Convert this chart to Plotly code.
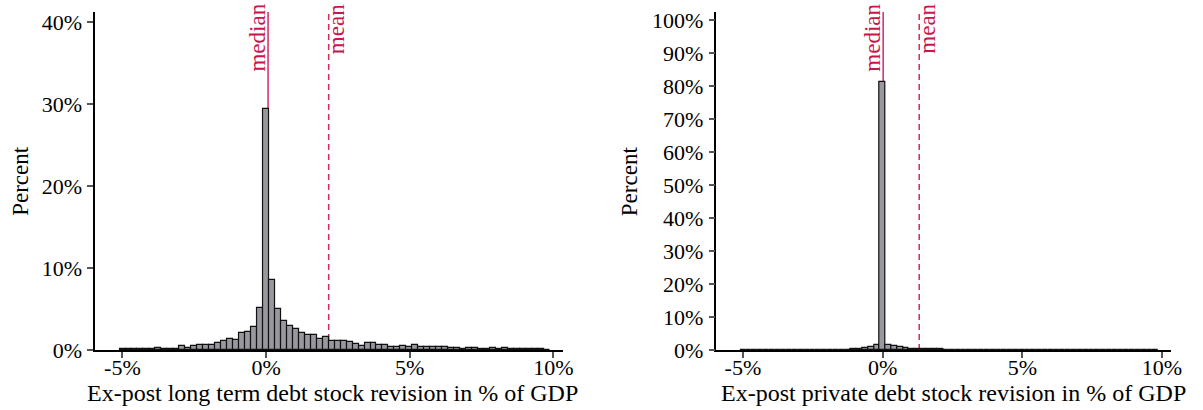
import numpy as np
import plotly.graph_objects as go

# ---------------- data ----------------
bin_width = 0.208          # % of GDP
first_bin_index = -24      # bins centred on k * bin_width

left_pct = [0.08, 0.10, 0.10, 0.08, 0.10, 0.10, 0.25, 0.10, 0.10, 0.10,
            0.45, 0.30, 0.50, 0.57, 0.60, 0.65, 0.85, 1.05, 1.30, 1.25,
            2.07, 2.20, 2.80, 5.10,
            29.4,
            8.57, 5.00, 3.57, 2.93, 2.56, 2.03, 1.83, 1.83, 1.30, 1.55,
            1.10, 1.10, 1.10, 0.98, 0.73, 0.52, 0.85, 0.90, 0.60, 0.60,
            0.40, 0.40, 0.45, 0.33, 0.60, 0.35, 0.33, 0.40, 0.40, 0.33,
            0.30, 0.30, 0.12, 0.20, 0.20, 0.17, 0.17, 0.25, 0.12, 0.20,
            0.12, 0.12, 0.12, 0.17, 0.12, 0.08, 0.05]

right_pct = [0.10, 0.10, 0.03, 0.05, 0.05, 0.06, 0.05, 0.05, 0.05, 0.06,
             0.05, 0.05, 0.05, 0.06, 0.05, 0.05, 0.05, 0.06, 0.10, 0.20,
             0.30, 0.50, 0.80, 1.60,
             81.2,
             1.50, 1.10, 0.80, 0.50, 0.30, 0.25, 0.20, 0.20, 0.40, 0.30,
             0.15, 0.10, 0.12, 0.10, 0.10, 0.12, 0.10, 0.10, 0.10, 0.10,
             0.10, 0.08, 0.05, 0.05, 0.06, 0.05, 0.05, 0.05, 0.05, 0.06,
             0.05, 0.05, 0.05, 0.05, 0.05, 0.06, 0.05, 0.05, 0.05, 0.05,
             0.05, 0.05, 0.05, 0.05, 0.05, 0.04, 0.04]

left_median, left_mean = 0.07, 2.18
right_median, right_mean = 0.02, 1.31

x_tickvals = [-5, 0, 5, 10]
x_ticktext = ["-5%", "0%", "5%", "10%"]
left_yticks = [0, 10, 20, 30, 40]
left_yticktext = ["0%", "10%", "20%", "30%", "40%"]
right_yticks = [0, 10, 20, 30, 40, 50, 60, 70, 80, 90, 100]
right_yticktext = ["0%", "10%", "20%", "30%", "40%", "50%", "60%", "70%",
                   "80%", "90%", "100%"]

left_xtitle = "Ex-post long term debt stock revision in % of GDP"
right_xtitle = "Ex-post private debt stock revision in % of GDP"
ytitle = "Percent"

# ---------------- styling ----------------
FONT = "Times New Roman, Liberation Serif, serif"
FS = 23
TICK_FS = 22
BAR_FILL = "#9a989f"
BAR_EDGE = "#111111"
RED = "#c9154c"
LINE_RED = "#d42a5b"

W, H = 1203, 410
left_dom = [96 / W, 568 / W]
right_dom = [723 / W, 1182 / W]
x_range = [-5.95, 10.33]

def centers(n):
    return (np.arange(n) + first_bin_index) * bin_width

fig = go.Figure()
fig.add_trace(go.Bar(x=centers(len(left_pct)), y=left_pct, width=bin_width,
                     marker=dict(color=BAR_FILL, line=dict(color=BAR_EDGE, width=1.2)),
                     xaxis="x", yaxis="y", showlegend=False))
fig.add_trace(go.Bar(x=centers(len(right_pct)), y=right_pct, width=bin_width,
                     marker=dict(color=BAR_FILL, line=dict(color=BAR_EDGE, width=1.2)),
                     xaxis="x2", yaxis="y2", showlegend=False))

def axis_style(standoff=0):
    return dict(showline=True, linecolor="black", linewidth=1.5,
                ticks="outside", ticklen=6, tickwidth=1.5, tickcolor="#555555",
                showgrid=False, zeroline=False, tickmode="array",
                ticklabelstandoff=standoff,
                tickfont=dict(family=FONT, size=TICK_FS, color="black"))

fig.update_layout(
    width=W, height=H, autosize=False,
    margin=dict(l=0, r=0, t=12, b=60),
    paper_bgcolor="white", plot_bgcolor="white",
    bargap=0,
    font=dict(family=FONT, size=FS, color="black"),
    xaxis=dict(domain=left_dom, range=x_range, anchor="y",
               tickvals=x_tickvals, ticktext=x_ticktext, **axis_style(-9)),
    yaxis=dict(domain=[0, 1], range=[0, 41.2], anchor="x",
               tickvals=left_yticks, ticktext=left_yticktext, **axis_style(1)),
    xaxis2=dict(domain=right_dom, range=x_range, anchor="y2",
                tickvals=x_tickvals, ticktext=x_ticktext, **axis_style(-9)),
    yaxis2=dict(domain=[0, 1], range=[0, 102.4], anchor="x2",
                tickvals=right_yticks, ticktext=right_yticktext, **axis_style(1)),
)

# median / mean lines (behind bars)
for xr, yr, med, mean in [("x", "y", left_median, left_mean),
                          ("x2", "y2", right_median, right_mean)]:
    fig.add_shape(type="line", xref=xr, yref=f"{yr} domain", x0=med, x1=med,
                  y0=0, y1=1, layer="below",
                  line=dict(color=LINE_RED, width=1.5))
    fig.add_shape(type="line", xref=xr, yref=f"{yr} domain", x0=mean, x1=mean,
                  y0=0, y1=1, layer="below",
                  line=dict(color=LINE_RED, width=1.5, dash="6px,4px"))
    fig.add_annotation(text="median", xref=xr, yref="paper", x=med, y=1,
                       xanchor="right", yanchor="top", textangle=-90,
                       showarrow=False, xshift=3, yshift=10,
                       font=dict(family=FONT, size=FS, color=RED))
    fig.add_annotation(text="mean", xref=xr, yref="paper", x=mean, y=1,
                       xanchor="left", yanchor="top", textangle=-90,
                       showarrow=False, xshift=-7, yshift=10,
                       font=dict(family=FONT, size=FS, color=RED))

# axis titles
for xc, title in [(336, left_xtitle), (962, right_xtitle)]:
    fig.add_annotation(text=title, xref="paper", yref="paper",
                       x=xc / W, y=-28 / (H - 72), yanchor="top", xanchor="center",
                       showarrow=False, font=dict(family=FONT, size=FS + 1, color="black"))
for xc in [20, 635]:
    fig.add_annotation(text=ytitle, xref="paper", yref="paper",
                       x=xc / W, y=0.5, xanchor="center", yanchor="middle",
                       textangle=-90, showarrow=False,
                       font=dict(family=FONT, size=FS, color="black"))

fig.write_html("out.html", config={"displayModeBar": False},
               post_script="document.body.style.margin='0';")
